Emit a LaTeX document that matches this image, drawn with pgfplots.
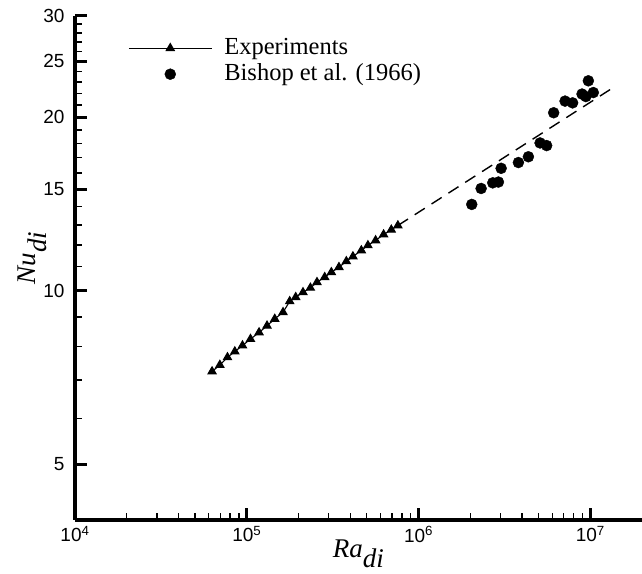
\documentclass[border=0pt]{standalone}
\usepackage{fontspec}
\setmainfont{Liberation Serif}
\setsansfont{Liberation Sans}
\usepackage{pgfplots}
\pgfplotsset{compat=1.18}
\begin{document}
\begin{tikzpicture}
\path[use as bounding box] (-75pt,-53pt) rectangle (567pt,520pt);
\begin{axis}[
  at={(0pt,0pt)}, anchor=south west,
  scale only axis, width=567pt, height=504.4pt,
  xmode=log, ymode=log,
  xmin=1e4, xmax=2e7, ymin=4, ymax=30,
  axis x line=bottom, axis y line=left,
  separate axis lines,
  axis line style={-, line width=3.4pt},
  x axis line style={-, line width=3.4pt},
  y axis line style={-, line width=3.4pt},
  xtick={1e4,1e5,1e6,1e7},
  xticklabels={10\textsuperscript{4},10\textsuperscript{5},10\textsuperscript{6},10\textsuperscript{7}},
  minor xtick={2e4,3e4,4e4,5e4,6e4,7e4,8e4,9e4,2e5,3e5,4e5,5e5,6e5,7e5,8e5,9e5,2e6,3e6,4e6,5e6,6e6,7e6,8e6,9e6},
  ytick={5,10,15,20,25,30},
  yticklabels={5,10,15,20,25,30},
  minor ytick={6,7,8,9,11,12,13,14,16,17,18,19,21,22,23,24,26,27,28,29},
  tick align=inside,
  major tick length=12pt, minor tick length=7pt,
  major tick style={line width=3.2pt, black},
  minor tick style={line width=1.3pt, black},
  ticklabel style={font=\sffamily\fontsize{19}{21}\selectfont},
  yticklabel style={xshift=-7pt},
  xticklabel style={yshift=-3pt},
  xlabel={$\textit{Ra}_{\textit{di}}$},
  ylabel={$\textit{Nu}_{\textit{di}}$},
  label style={font=\fontsize{27}{29}\selectfont},
  xlabel style={at={(axis description cs:0.5,-0.0735)}, anchor=base},
  ylabel style={at={(axis description cs:-0.0688,0.52)}, anchor=base},
  legend image code/.code={\draw[mark repeat=2,mark phase=2] plot coordinates {(0pt,0pt)(41.5pt,0pt)(83pt,0pt)};},
  legend style={draw=none, fill=none, inner sep=0pt, at={(axis description cs:0.0935,0.9576)}, anchor=north west,
    font=\fontsize{24.5}{26}\selectfont, column sep=12pt, row sep=4pt,
    nodes={inner sep=0pt, text height=17pt, text depth=5pt}},
  legend cell align=left,
]
\addplot[black, line width=1.1pt, mark=triangle*, mark size=4.6pt, mark options={solid}] coordinates {
(6.28e4,7.24) (6.97e4,7.43) (7.72e4,7.66) (8.52e4,7.84) (9.44e4,8.03)
(1.051e5,8.24) (1.179e5,8.46) (1.312e5,8.69) (1.455e5,8.93) (1.626e5,9.17)
(1.778e5,9.58) (1.927e5,9.74) (2.125e5,9.93) (2.346e5,10.11) (2.563e5,10.34)
(2.842e5,10.55) (3.108e5,10.76) (3.441e5,10.98) (3.799e5,11.24) (4.15e5,11.46)
(4.645e5,11.74) (5.072e5,11.98) (5.623e5,12.22) (6.26e5,12.51) (6.94e5,12.75)
(7.58e5,12.97)
};
\addlegendentry{Experiments}
\addplot[black, only marks, mark=*, mark size=5.5pt] coordinates {
(2.041e6,14.11) (2.314e6,15.04) (2.704e6,15.38) (2.918e6,15.43) (3.026e6,16.30)
(3.814e6,16.68) (4.36e6,17.07) (5.1e6,18.04) (5.57e6,17.85) (6.12e6,20.35)
(7.13e6,21.32) (7.89e6,21.17) (8.95e6,21.93) (9.42e6,21.71) (9.74e6,23.12)
(1.041e7,22.06)
};
\addlegendentry{Bishop et al. (1966)}
\addplot[black, line width=1.4pt, dash pattern=on 12pt off 8pt, forget plot] coordinates {
(7.58e5,12.97) (1.343e7,22.45)
};
\end{axis}
\end{tikzpicture}
\end{document}
